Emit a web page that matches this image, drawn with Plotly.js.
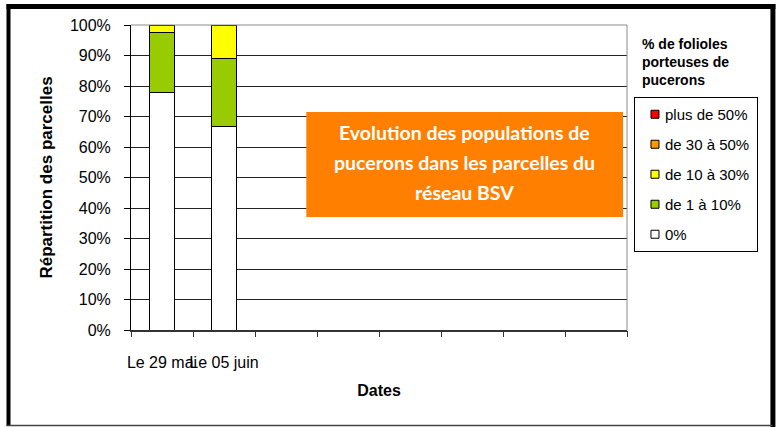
<!DOCTYPE html>
<html>
<head>
<meta charset="utf-8">
<script src="https://cdn.plot.ly/plotly-3.0.1.min.js"></script>
<style>
  html, body { margin: 0; padding: 0; background: #fff; }
  #chart { width: 778px; height: 427px; }
</style>
</head>
<body>
<div id="chart"></div>
<script>
// ---- data ----
const dates = ["Le 29 mai", "Le 05 juin", "", "", "", "", "", ""];
const seriesNames = ["0%", "de 1 à 10%", "de 10 à 30%", "de 30 à 50%", "plus de 50%"];
const pct0 = [78.0, 66.7];
const pct1to10 = [19.5, 22.2];
const pct10to30 = [2.5, 11.1];
const pct30to50 = [0, 0];
const pctOver50 = [0, 0];
const yTickVals = [0, 10, 20, 30, 40, 50, 60, 70, 80, 90, 100];
const yTickText = yTickVals.map(v => v + "%");
const boxLines = ["Evolution des populations de", "pucerons dans les parcelles du", "réseau BSV"];
const legendTitle = ["% de folioles", "porteuses de", "pucerons"];
const xTitle = "Dates";
const yTitle = "Répartition des parcelles";

// ---- styling ----
const colors = ["#FFFFFF", "#99CC00", "#FFFF00", "#FF9900", "#FF0000"];
const values = [pct0, pct1to10, pct10to30, pct30to50, pctOver50];
const FONT = "Liberation Sans, Arial, sans-serif";

const L = 131, R = 629, T = 25, B = 330;
const px = x => (x - L) / (R - L);
const py = y => (B - y) / (B - T);

const catIdx = dates.map((_, i) => i);

const traces = values.map((vals, k) => ({
  type: "bar",
  name: seriesNames[k],
  legendgroup: "g" + k,
  legendrank: values.length - k,
  x: vals.map((_, i) => catIdx[i]),
  y: vals,
  width: 0.4,
  marker: { color: colors[k], line: { color: "#000", width: 1 } },
  hoverinfo: "skip"
}));
// overlay axis that only draws boundary tick marks
traces.push({
  type: "scatter", x: [], y: [], xaxis: "x2", yaxis: "y", showlegend: false, hoverinfo: "skip"
});

const boundaries = [];
for (let i = 0; i <= dates.length; i++) boundaries.push(i - 0.5);

const annotations = boxLines.map((t, i) => ({
  xref: "paper", yref: "paper",
  x: px(466), y: py(132 + i * 30),
  xanchor: "center", yanchor: "middle",
  text: "<b>" + t + "</b>",
  showarrow: false,
  font: { family: "Lato, Open Sans, sans-serif", size: 19.5, color: "#fff" }
}));
annotations.push({
  xref: "paper", yref: "paper",
  x: px(642), y: py(62),
  xanchor: "left", yanchor: "middle", align: "left",
  text: "<b>" + legendTitle.join("<br>") + "</b>",
  showarrow: false,
  font: { family: FONT, size: 14, color: "#000" }
});

const shapes = [
  { type: "line", xref: "paper", yref: "paper", x0: 0, x1: 1, y0: 1, y1: 1, line: { color: "#8c8c8c", width: 1 }, layer: "above" },
  { type: "line", xref: "paper", yref: "paper", x0: 1, x1: 1, y0: 0, y1: 1, line: { color: "#8c8c8c", width: 1 }, layer: "above" },
  { type: "rect", xref: "paper", yref: "paper", x0: px(307), x1: px(625), y0: py(217), y1: py(112),
    fillcolor: "#FF8000", line: { width: 0 }, layer: "above" },
  { type: "line", xref: "paper", yref: "paper", x0: px(6), x1: px(778), y0: py(6.5), y1: py(6.5), line: { color: "#000", width: 5 } },
  { type: "line", xref: "paper", yref: "paper", x0: px(8), x1: px(8), y0: py(4), y1: py(426), line: { color: "#000", width: 4 } },
  { type: "line", xref: "paper", yref: "paper", x0: px(775.5), x1: px(775.5), y0: py(4), y1: py(427), line: { color: "#000", width: 5 } },
  { type: "line", xref: "paper", yref: "paper", x0: px(6), x1: px(775), y0: py(425.5), y1: py(425.5), line: { color: "#444", width: 1.5 } }
];

const layout = {
  width: 778, height: 427,
  margin: { l: L, r: 778 - R, t: T, b: 427 - B, pad: 0 },
  paper_bgcolor: "#fff", plot_bgcolor: "#fff",
  barmode: "stack",
  font: { family: FONT, size: 16, color: "#000" },
  showlegend: true,
  legend: {
    x: px(636), y: py(97), xanchor: "left", yanchor: "top",
    bordercolor: "#000", borderwidth: 1, bgcolor: "#fff",
    traceorder: "grouped", tracegroupgap: 7.5,
    font: { family: FONT, size: 15, color: "#000" },
    itemclick: false
  },
  xaxis: {
    range: [-0.5, dates.length - 0.5],
    tickmode: "array", tickvals: catIdx, ticktext: dates,
    tickangle: 0,
    ticks: "", showgrid: false, zeroline: false,
    showline: true, linecolor: "#333", linewidth: 2,
    tickfont: { family: FONT, size: 16, color: "#000" },
    ticklabelstandoff: 17,
    title: { text: "<b>" + xTitle + "</b>", font: { family: FONT, size: 16, color: "#000" }, standoff: 15 },
    fixedrange: true
  },
  xaxis2: {
    overlaying: "x", range: [-0.5, dates.length - 0.5],
    tickmode: "array", tickvals: boundaries, ticks: "outside", ticklen: 6, tickwidth: 1, tickcolor: "#333",
    showticklabels: false, showgrid: false, zeroline: false, showline: false, side: "bottom",
    fixedrange: true
  },
  yaxis: {
    range: [0, 100],
    tickmode: "array", tickvals: yTickVals, ticktext: yTickText,
    ticks: "outside", ticklen: 6, tickwidth: 1, tickcolor: "#000",
    showgrid: true, gridcolor: "#222", gridwidth: 1,
    zeroline: false, showline: true, linecolor: "#000", linewidth: 1,
    tickfont: { family: FONT, size: 16, color: "#000" },
    ticklabelstandoff: 10,
    title: { text: "<b>" + yTitle + "</b>", font: { family: FONT, size: 17, color: "#000" }, standoff: 12 },
    fixedrange: true
  },
  annotations: annotations,
  shapes: shapes
};

Plotly.newPlot("chart", traces, layout, { staticPlot: true, displayModeBar: false }).then(() => {
  // smaller legend swatches and tighter text, as in the original
  document.querySelectorAll("#chart .legend .traces").forEach(g => {
    g.querySelectorAll(".legendpoints path").forEach(p => p.setAttribute("d", "M4,4H-4V-4H4Z"));
    const t = g.querySelector(".legendtext");
    if (t) t.setAttribute("x", "30");
  });
  const bg = document.querySelector("#chart .legend rect.bg");
  if (bg) {
    const w = parseFloat(bg.getAttribute("width"));
    bg.setAttribute("width", String(w - 8));
  }
});
</script>
</body>
</html>
